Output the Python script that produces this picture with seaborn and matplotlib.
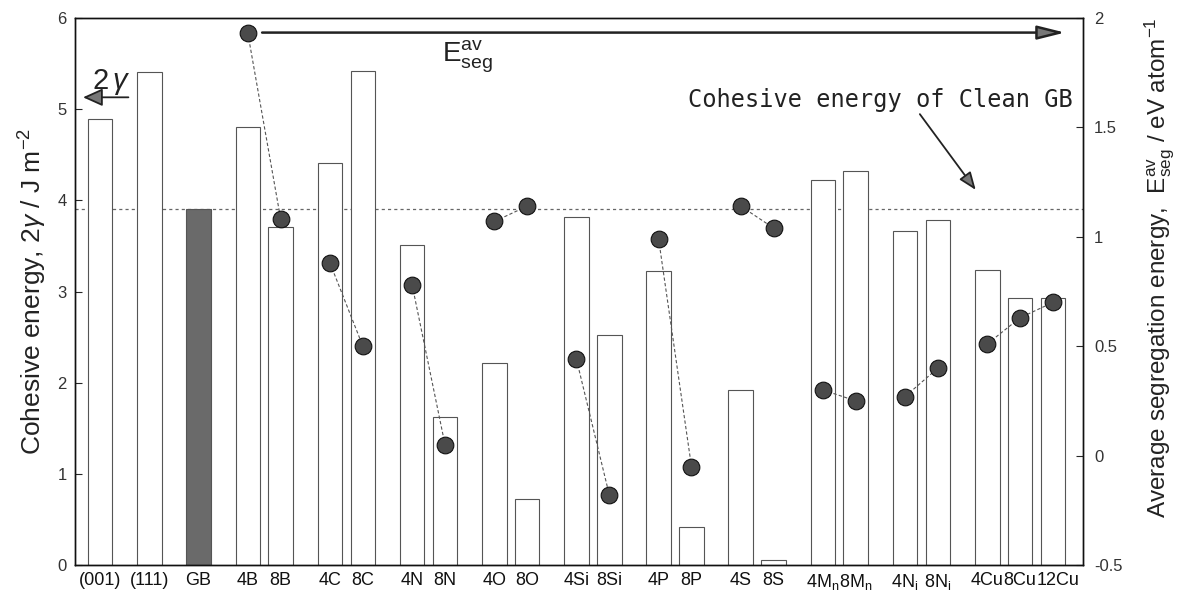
import numpy as np
import pandas as pd
import matplotlib
matplotlib.use("Agg")
import matplotlib.pyplot as plt
import matplotlib.transforms as mtransforms
import seaborn as sns

# Cohesive energy (left axis) for each slab / grain-boundary model
labels = ["(001)", "(111)", "GB", "4B", "8B", "4C", "8C", "4N", "8N",
          "4O", "8O", "4Si", "8Si", "4P", "8P", "4S", "8S",
          "4Mn", "8Mn", "4Ni", "8Ni", "4Cu", "8Cu", "12Cu"]
tick_text = ["(001)", "(111)", "GB", "4B", "8B", "4C", "8C", "4N", "8N",
             "4O", "8O", "4Si", "8Si", "4P", "8P", "4S", "8S",
             r"4M$_\mathrm{n}$", r"8M$_\mathrm{n}$", r"4N$_\mathrm{i}$", r"8N$_\mathrm{i}$",
             "4Cu", "8Cu", "12Cu"]
positions = [0, 3, 6, 9, 11, 14, 16, 19, 21, 24, 26, 29, 31, 34, 36,
             39, 41, 44, 46, 49, 51, 54, 56, 58]
cohesive = [4.89, 5.41, 3.90, 4.80, 3.71, 4.41, 5.42, 3.51, 1.62,
            2.22, 0.72, 3.82, 2.52, 3.22, 0.42, 1.92, 0.06,
            4.22, 4.32, 3.66, 3.78, 3.24, 2.93, 2.93]
clean_gb = 3.90

# Average segregation energy (right axis), joined within each solute
seg_element = ["B", "B", "C", "C", "N", "N", "O", "O", "Si", "Si",
               "P", "P", "S", "S", "Mn", "Mn", "Ni", "Ni", "Cu", "Cu", "Cu"]
seg_pos = [9, 11, 14, 16, 19, 21, 24, 26, 29, 31, 34, 36, 39, 41,
           44, 46, 49, 51, 54, 56, 58]
seg_energy = [1.93, 1.08, 0.88, 0.50, 0.78, 0.05, 1.07, 1.14, 0.44, -0.18,
              0.99, -0.05, 1.14, 1.04, 0.30, 0.25, 0.27, 0.40, 0.51, 0.63, 0.70]

left_ticks = [0, 1, 2, 3, 4, 5, 6]
right_ticks = [-0.5, 0, 0.5, 1, 1.5, 2]
right_tick_labels = ["-0.5", "0", "0.5", "1", "1.5", "2"]

sns.set_theme(style="white")
plt.rcParams["font.family"] = ["Liberation Sans", "DejaVu Sans"]
plt.rcParams["mathtext.fontset"] = "custom"
plt.rcParams["mathtext.rm"] = "Liberation Sans"
plt.rcParams["mathtext.it"] = "Liberation Sans:italic"
plt.rcParams["mathtext.bf"] = "Liberation Sans:bold"

bars = pd.DataFrame({"label": labels, "pos": positions, "cohesive": cohesive})
seg = pd.DataFrame({"element": seg_element, "pos": seg_pos, "energy": seg_energy})

fig = plt.figure(figsize=(11.8, 5.96), dpi=100)
ax = fig.add_axes([75 / 1180, 1 - 565 / 596, (1083 - 75) / 1180, (565 - 18) / 596])

palette = {lab: "white" for lab in labels}
palette["GB"] = "#6a6a6a"

ax.axhline(clean_gb, color="#666666", lw=0.9, ls=(0, (2.5, 2.5)), zorder=0.5)
sns.barplot(data=bars, x="pos", y="cohesive", hue="label", palette=palette,
            native_scale=True, width=0.75, orient="x", saturation=1,
            edgecolor="#555555", linewidth=0.8, legend=False, ax=ax, zorder=1)

ax.set_xlim(-1.52, 59.83)
ax.set_ylim(0, 6)
ax.set_xticks(positions)
ax.set_xticklabels(tick_text, fontsize=13, color="#111111")
ax.set_yticks(left_ticks)
ax.set_yticklabels([str(t) for t in left_ticks], fontsize=12, color="#333333")
ax.tick_params(axis="x", length=0, pad=5)
ax.tick_params(axis="y", direction="in", length=5, width=0.8, pad=6)
ax.set_xlabel("")
ax.set_ylabel(r"Cohesive energy, 2$\gamma$ / J m$^{-2}$", fontsize=19,
              color="#222222", labelpad=6)
for side in ["left", "right", "top", "bottom"]:
    ax.spines[side].set_color("#111111")
    ax.spines[side].set_linewidth(1.0)

# the last label runs a little past its bar
last = ax.get_xticklabels()[-1]
last.set_transform(last.get_transform()
                   + mtransforms.ScaledTranslation(5 / 100, 0, fig.dpi_scale_trans))

ax2 = ax.twinx()
sns.lineplot(data=seg, x="pos", y="energy", units="element", estimator=None,
             color="#555555", lw=0.8, linestyle=(0, (3, 2)), marker="o",
             markersize=12, markerfacecolor="#4a4a4a", markeredgecolor="#111111",
             markeredgewidth=0.8, ax=ax2)
ax2.set_ylim(-0.5, 2)
ax2.set_xlim(-1.52, 59.83)
ax2.set_yticks(right_ticks)
ax2.set_yticklabels(right_tick_labels, fontsize=12, color="#333333")
ax2.tick_params(axis="y", direction="in", length=5, width=0.8, pad=8)
ax2.set_xlabel("")
ax2.set_ylabel("")
for side in ["left", "right", "top", "bottom"]:
    ax2.spines[side].set_color("#111111")
    ax2.spines[side].set_linewidth(1.0)

fig.text(1160 / 1180, 1 - 268 / 596,
         r"Average segregation energy,  $\mathrm{E}_{\mathrm{seg}}^{\mathrm{av}}$ / eV atom$^{-1}$",
         rotation=90, ha="center", va="center", fontsize=17.5, color="#222222")

# 2-gamma label and arrow toward the left axis
ax.annotate("", xy=(-1.2, 5.13), xytext=(1.9, 5.13),
            arrowprops=dict(arrowstyle="-|>,head_length=1.0,head_width=0.45",
                            lw=1.3, color="#222222", fc="#777777"))
ax.text(-0.5, 5.22, r"2$\,\gamma$", fontsize=21, ha="left", va="baseline",
        color="#222222")

# Segregation-energy arrow toward the right axis
ax.annotate("", xy=(58.9, 5.84), xytext=(9.7, 5.84),
            arrowprops=dict(arrowstyle="-|>,head_length=1.4,head_width=0.35",
                            lw=1.8, color="#222222", fc="#777777"))
ax.text(20.8, 5.52, r"$\mathrm{E}_{\mathrm{seg}}^{\mathrm{av}}$", fontsize=20,
        ha="left", va="baseline", color="#222222")

# Clean grain-boundary reference
ax.text(47.5, 5.02, "Cohesive energy of Clean GB", family="DejaVu Sans Mono",
        fontsize=17, ha="center", va="baseline", color="#222222")
ax.annotate("", xy=(53.4, 4.09), xytext=(49.8, 4.97),
            arrowprops=dict(arrowstyle="-|>,head_length=0.9,head_width=0.35",
                            lw=1.3, color="#222222", fc="#777777"))

fig.savefig("out.png", dpi=100, facecolor="white")
